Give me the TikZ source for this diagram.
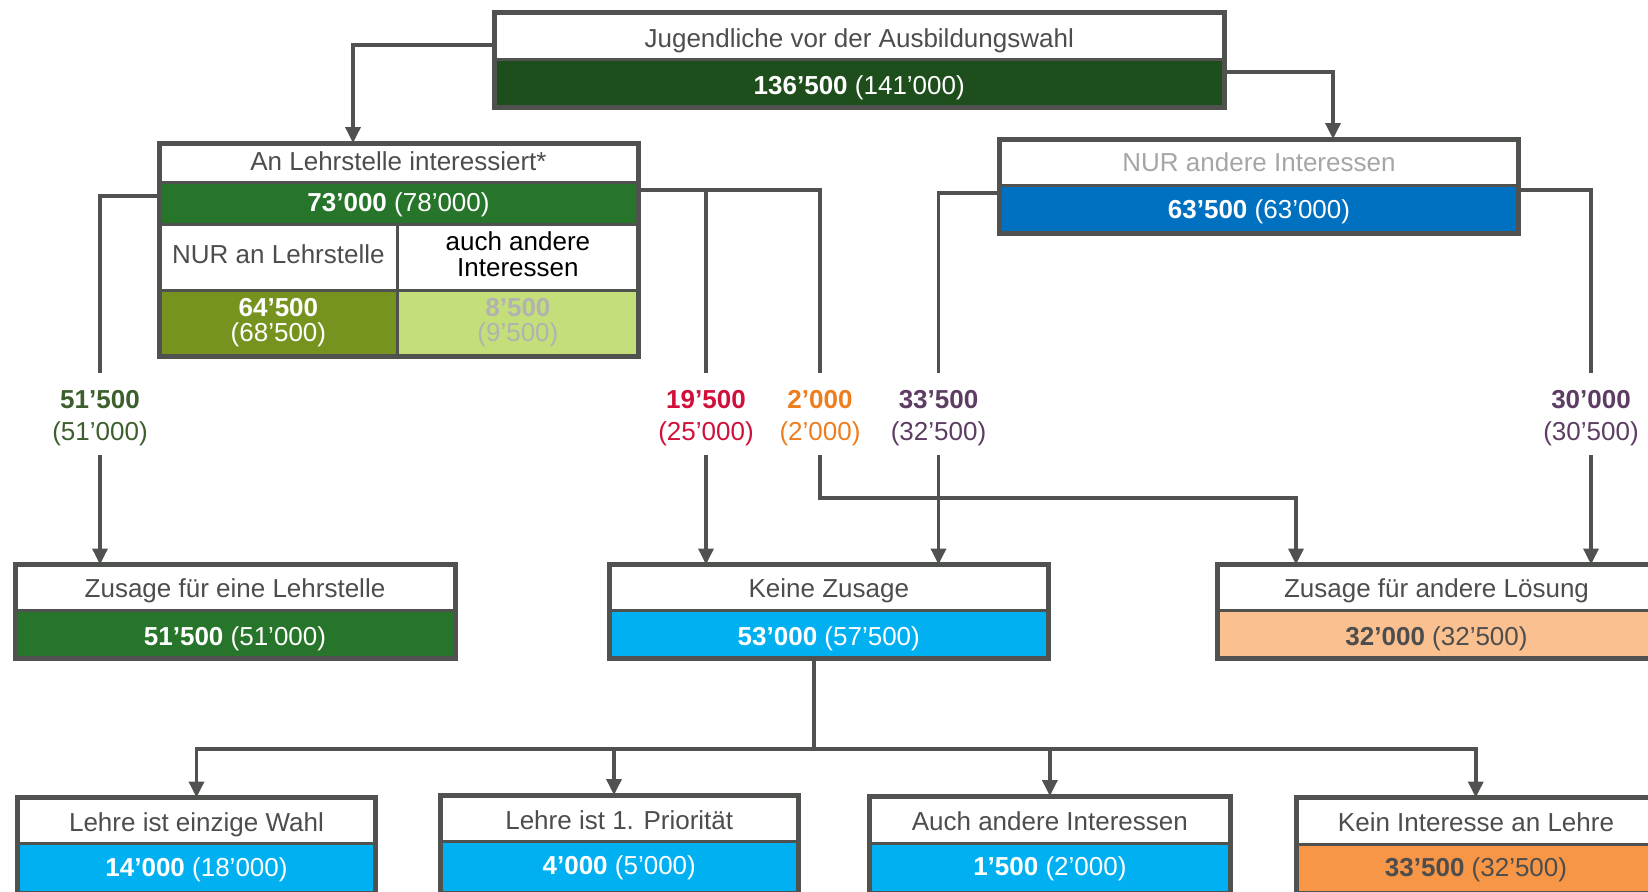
\documentclass[tikz,border=0pt]{standalone}
\usepackage{fontspec}
\setmainfont{Liberation Sans}
\usetikzlibrary{arrows.meta,calc}
\definecolor{ln}{HTML}{4F524F}
\definecolor{txg}{HTML}{4D4D4D}
\definecolor{dkgreen}{HTML}{1D4E1C}
\definecolor{mgreen}{HTML}{26752A}
\definecolor{olive}{HTML}{76931F}
\definecolor{ltgreen}{HTML}{C4DF7A}
\definecolor{nblue}{HTML}{0070C0}
\definecolor{ncyan}{HTML}{00B0F0}
\definecolor{peach}{HTML}{FAC090}
\definecolor{norange}{HTML}{F79646}
\definecolor{ltgray}{HTML}{A6A6A6}
\definecolor{ltgrayb}{HTML}{B2B2B2}
\definecolor{labgreen}{HTML}{3D5F2E}
\definecolor{labred}{HTML}{D0103A}
\definecolor{laborange}{HTML}{EE7D1E}
\definecolor{labpurple}{HTML}{5D3D63}
\newcommand\mytwobox[7]{%
  \fill[white] (#2,#3) rectangle (#4,#5);
  \fill[#7] (#2,#5) rectangle (#4,#6);
  \draw[divl] (#2,#5) -- (#4,#5);
  \node[frame, anchor=north west, minimum width={#4-#2}, minimum height={#6-#3}] (#1) at (#2,#3) {};
}
\begin{document}
\begin{tikzpicture}[x=1pt,y=-1pt,
  frame/.style={draw=ln, line width=5pt, inner sep=0pt, outer sep=0pt},
  divl/.style={draw=ln, line width=3pt},
  tx/.style={font=\fontsize{26}{26}\selectfont, inner sep=0pt, anchor=base, text=txg},
  conn/.style={draw=ln, line width=3.5pt},
  arr/.style={-{Triangle[width=15pt,length=16pt]}}
]
\useasboundingbox (0,0) rectangle (1648,891);
\clip (0,0) rectangle (1648,891);

% ---------- top box
\mytwobox{T}{494.5}{13}{1224}{60}{107.5}{dkgreen}
\node[tx] (Tt) at (859.25,47.5) {Jugendliche vor der Ausbildungswahl};
\node[tx,text=white] (Tv) at (859.25,94) {\textbf{136’500} (141’000)};

% ---------- An Lehrstelle box
\fill[white] (159,143) rectangle (638,182.7);
\fill[mgreen] (159,182.7) rectangle (638,224.3);
\fill[white] (159,224.3) rectangle (638,290);
\fill[olive] (159,290) rectangle (397.7,356.5);
\fill[ltgreen] (397.7,290) rectangle (638,356.5);
\draw[divl] (159,182.7) -- (638,182.7);
\draw[divl] (159,224.3) -- (638,224.3);
\draw[divl] (159,290) -- (638,290);
\draw[divl] (397.7,224.3) -- (397.7,356.5);
\node[frame, anchor=north west, minimum width=479pt, minimum height=213.5pt] (L) at (159,143) {};
\node[tx] (Lt) at (398.5,170) {An Lehrstelle interessiert*};
\node[tx,text=white] (Lv) at (398.5,211) {\textbf{73’000} (78’000)};
\node[tx] (La) at (278.4,263) {NUR an Lehrstelle};
\node[tx,text=black] (Lb1) at (517.9,250) {auch andere};
\node[tx,text=black] (Lb2) at (517.9,276.5) {Interessen};
\node[tx,text=white] (Lc1) at (278.4,316.5) {\textbf{64’500}};
\node[tx,text=white] (Lc2) at (278.4,341.5) {(68’500)};
\node[tx,text=ltgrayb] (Ld1) at (517.9,316.5) {\textbf{8’500}};
\node[tx,text=ltgrayb] (Ld2) at (517.9,341.5) {(9’500)};

% ---------- NUR andere Interessen
\mytwobox{N}{999.5}{139}{1518.5}{185}{233}{nblue}
\node[tx,text=ltgray] (Nt) at (1259,171.5) {NUR andere Interessen};
\node[tx,text=white] (Nv) at (1259,218.3) {\textbf{63’500} (63’000)};

% ---------- middle row
\mytwobox{Z1}{15}{564.5}{455}{610}{658}{mgreen}
\node[tx] (Z1t) at (235,597.5) {Zusage für eine Lehrstelle};
\node[tx,text=white] (Z1v) at (235,645) {\textbf{51’500} (51’000)};

\mytwobox{K}{609}{564.5}{1048.6}{610}{658}{ncyan}
\node[tx] (Kt) at (828.8,597.5) {Keine Zusage};
\node[tx,text=white] (Kv) at (828.8,645) {\textbf{53’000} (57’500)};

\mytwobox{Z2}{1217}{564.5}{1656}{610}{658}{peach}
\node[tx] (Z2t) at (1436.5,597.5) {Zusage für andere Lösung};
\node[tx] (Z2v) at (1436.5,645) {\textbf{32’000} (32’500)};

% ---------- bottom row
\mytwobox{B1}{17.5}{797.5}{375.5}{843.5}{893}{ncyan}
\node[tx] (B1t) at (196.5,831.5) {Lehre ist einzige Wahl};
\node[tx,text=white] (B1v) at (196.5,876.5) {\textbf{14’000} (18’000)};

\mytwobox{B2}{440.5}{795}{798}{841.5}{893}{ncyan}
\node[tx] (B2t) at (619.25,829) {Lehre ist 1. Priorität};
\node[tx,text=white] (B2v) at (619.25,874.5) {\textbf{4’000} (5’000)};

\mytwobox{B3}{869}{796}{1230.7}{843}{893}{ncyan}
\node[tx] (B3t) at (1049.85,830.5) {Auch andere Interessen};
\node[tx,text=white] (B3v) at (1049.85,875.5) {\textbf{1’500} (2’000)};

\mytwobox{B4}{1296.5}{797.5}{1655}{844}{893}{norange}
\node[tx] (B4t) at (1476,831.5) {Kein Interesse an Lehre};
\node[tx] (B4v) at (1476,876.5) {\textbf{33’500} (32’500)};

% ---------- flow labels
\node[tx,text=labgreen] (l1a) at (100,408) {\textbf{51’500}};
\node[tx,text=labgreen] (l1b) at (100,440) {(51’000)};
\node[tx,text=labred] (l2a) at (706,408) {\textbf{19’500}};
\node[tx,text=labred] (l2b) at (706,440) {(25’000)};
\node[tx,text=laborange] (l3a) at (820,408) {\textbf{2’000}};
\node[tx,text=laborange] (l3b) at (820,440) {(2’000)};
\node[tx,text=labpurple] (l4a) at (938.5,408) {\textbf{33’500}};
\node[tx,text=labpurple] (l4b) at (938.5,440) {(32’500)};
\node[tx,text=labpurple] (l5a) at (1591,408) {\textbf{30’000}};
\node[tx,text=labpurple] (l5b) at (1591,440) {(30’500)};

% ---------- connector ends around labels
\coordinate (e1) at (100,373);   \coordinate (s1) at (100,455);
\coordinate (e2) at (706,373);   \coordinate (s2) at (706,455);
\coordinate (e3) at (820,373);   \coordinate (s3) at (820,455);
\coordinate (e4) at (938.5,373); \coordinate (s4) at (938.5,455);
\coordinate (e5) at (1591,373);  \coordinate (s5) at (1591,455);

% ---------- connectors
\draw[conn,arr] ($(T.north west)+(0,32)$) -| ($(L.north west)+(194,0)$);
\draw[conn,arr] ($(T.north east)+(0,59)$) -| ($(N.north west)+(333.5,0)$);

\draw[conn] ($(L.north west)+(0,53)$) -| (e1);
\draw[conn,arr] (s1) -- (s1 |- Z1.north);

\coordinate (j1) at ($(L.north east)+(0,47)$);
\draw[conn] (j1) -| (e3);
\draw[conn] (e2 |- j1) -- (e2);
\draw[conn,arr] (s2) -- (s2 |- K.north);
\draw[conn,arr] (s3) -- ++(0,43) -| ($(Z2.north west)+(79,0)$);

\draw[conn] ($(N.north west)+(0,54)$) -| (e4);
\draw[conn,arr] (s4) -- (s4 |- K.north);
\draw[conn] ($(N.north east)+(0,51)$) -| (e5);
\draw[conn,arr] (s5) -- (s5 |- Z2.north);

\coordinate (bus) at ($(K.south west)+(205,91)$);
\coordinate (b2top) at ($(B2.north west)+(173.5,0)$);
\draw[conn] ($(K.south west)+(205,0)$) -- (bus);
\draw[conn,arr] (bus) -| (B1.north);
\draw[conn,arr] (bus) -| (B4.north);
\draw[conn,arr] (b2top |- bus) -- (b2top);
\draw[conn,arr] (B3.north |- bus) -- (B3.north);
\end{tikzpicture}
\end{document}
